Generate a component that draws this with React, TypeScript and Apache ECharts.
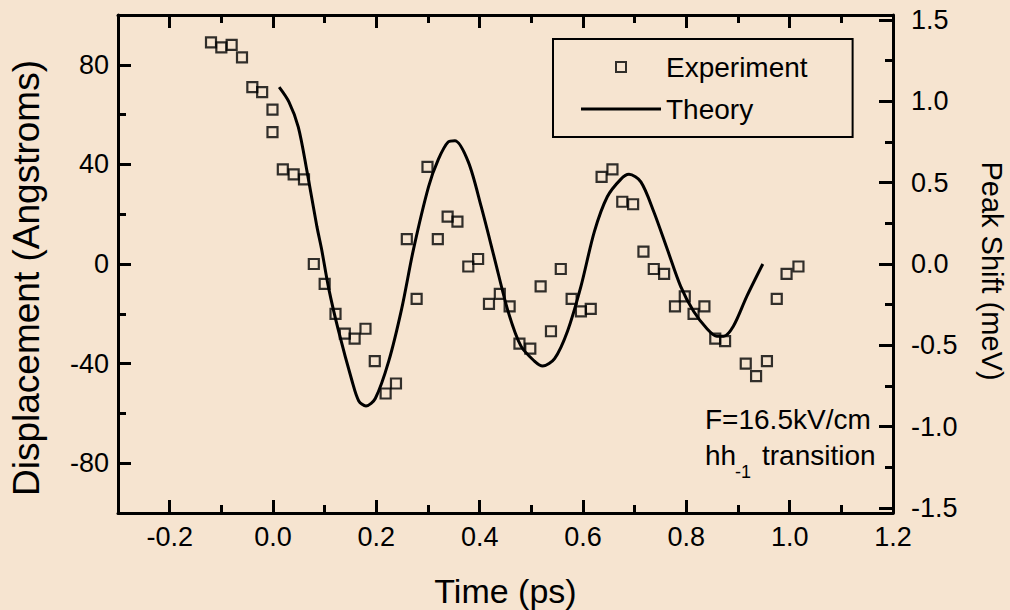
import React, { useEffect, useRef } from "react";
import * as echarts from "echarts";

// ---- data ----
const expTime = [
  -0.12, -0.1, -0.08, -0.06, -0.04, -0.021, -0.001, -0.001, 0.019, 0.04, 0.06, 0.079, 0.1, 0.121,
  0.139, 0.158, 0.179, 0.197, 0.218, 0.238, 0.259, 0.278, 0.299, 0.319, 0.338, 0.357, 0.378, 0.397,
  0.418, 0.439, 0.458, 0.477, 0.498, 0.518, 0.538, 0.557, 0.578, 0.596, 0.615, 0.636, 0.657, 0.676,
  0.697, 0.717, 0.737, 0.757, 0.778, 0.797, 0.814, 0.835, 0.856, 0.875, 0.915, 0.935, 0.956, 0.975,
  0.994, 1.017,
];
const expDisp = [
  89, 87, 88, 83, 71, 69, 62, 53, 38, 36, 34, 0, -8, -20, -28, -30, -26, -39, -52, -48, 10, -14, 39,
  10, 19, 17, -1, 2, -16, -12, -17, -32, -34, -9, -27, -2, -14, -19, -18, 35, 38, 25, 24, 5, -2, -4,
  -17, -13, -20, -17, -30, -31, -40, -45, -39, -14, -4, -1,
];
const theoryTime = [
  0.012, 0.031, 0.049, 0.066, 0.085, 0.094, 0.108, 0.127, 0.153, 0.166, 0.18, 0.198, 0.224, 0.249,
  0.272, 0.301, 0.32, 0.339, 0.352, 0.378, 0.403, 0.429, 0.455, 0.48, 0.506, 0.522, 0.545, 0.57,
  0.596, 0.622, 0.647, 0.673, 0.689, 0.712, 0.737, 0.763, 0.789, 0.814, 0.84, 0.859, 0.872, 0.891,
  0.917, 0.948,
];
const theoryDisp = [
  71, 65, 55, 37, 15, 6, -10, -27, -47, -55, -57, -54, -39, -18, 6, 31, 42, 49, 49.5, 41, 23, 2, -19,
  -33, -39, -41, -38, -27, -9, 13, 27, 34, 36, 33, 21, 6, -9, -19, -26, -29, -29, -25, -13, 0,
];

// tick positions (0.1 ps steps), every other one is a labelled major tick
const xTicks = ["-0.3", "-0.2", "-0.1", "0.0", "0.1", "0.2", "0.3", "0.4", "0.5", "0.6", "0.7", "0.8", "0.9", "1.0", "1.1", "1.2"];
// displacement ticks (20 Å steps)
const yLeftTicks = ["-100", "-80", "-60", "-40", "-20", "0", "20", "40", "60", "80", "100"];
// peak shift ticks (0.25 meV steps)
const yRightTicks = ["-1.5", "-1.25", "-1.0", "-0.75", "-0.5", "-0.25", "0.0", "0.25", "0.5", "0.75", "1.0", "1.25", "1.5"];

const FONT = "'Liberation Sans', Arial, Helvetica, sans-serif";
const INK = "#000";
const LABEL = { color: INK, fontSize: 27, fontFamily: FONT };
const TICK_W = 3;

const isOdd = (i: number) => i % 2 === 1;
const isEvenInner = (n: number) => (i: number) => i % 2 === 0 && i > 0 && i < n - 1;

function catX(position: "top" | "bottom", tickFilter: (i: number) => boolean, len: number, line: boolean, labels: boolean, name?: string) {
  return {
    type: "category",
    gridIndex: 0,
    position,
    data: xTicks,
    boundaryGap: false,
    splitLine: { show: false },
    axisLine: { show: line, onZero: false, lineStyle: { color: INK, width: 3 } },
    axisTick: { show: true, inside: true, length: len, interval: (i: number) => tickFilter(i), lineStyle: { color: INK, width: TICK_W } },
    axisLabel: labels ? { show: true, interval: (i: number) => tickFilter(i), margin: 10, ...LABEL } : { show: false },
    name,
    nameLocation: "middle",
    nameGap: 61,
    nameTextStyle: { color: INK, fontSize: 34, fontFamily: FONT },
    silent: true,
  };
}

function catY(gridIndex: number, position: "left" | "right", data: string[], tickFilter: (i: number) => boolean, len: number, line: boolean, labels: boolean, margin: number) {
  return {
    type: "category",
    gridIndex,
    position,
    data,
    boundaryGap: false,
    splitLine: { show: false },
    axisLine: { show: line, onZero: false, lineStyle: { color: INK, width: 3 } },
    axisTick: { show: len > 0, inside: true, length: len, interval: (i: number) => tickFilter(i), lineStyle: { color: INK, width: TICK_W } },
    axisLabel: labels ? { show: true, interval: (i: number) => tickFilter(i), margin, ...LABEL } : { show: false },
    silent: true,
  };
}

export default function App() {
  const ref = useRef<HTMLDivElement>(null);
  useEffect(() => {
    if (!ref.current) return;
    const chart = echarts.init(ref.current, null, { renderer: "svg" });
    const option: any = {
      animation: false,
      backgroundColor: "#F6E4D0",
      textStyle: { fontFamily: FONT },
      grid: [
        { left: 118, right: 117, top: 15, bottom: 97, containLabel: false, outerBoundsMode: "none" },
        // peak shift scale: -1.5..1.5 meV occupies a slightly shorter span than the frame
        { left: 118, right: 117, top: 20, bottom: 102, containLabel: false, outerBoundsMode: "none" },
      ],
      legend: {
        left: 553,
        top: 39,
        orient: "vertical",
        align: "left",
        padding: [14, 45, 14, 27],
        itemGap: 14,
        itemWidth: 80,
        itemHeight: 10,
        borderColor: INK,
        borderWidth: 2,
        textStyle: { color: INK, fontSize: 28, fontFamily: FONT },
        data: [
          {
            name: "Experiment",
            icon: "path://M0,0M80,10M35,0h10v10h-10z",
            itemStyle: { color: "rgba(0,0,0,0)", borderColor: INK, borderWidth: 2 },
          },
          {
            name: "Theory",
            icon: "path://M0,0M80,10M0,3.5h80v3h-80z",
            itemStyle: { color: INK, borderWidth: 0 },
          },
        ],
      },
      xAxis: [
        { type: "value", gridIndex: 0, min: -0.3, max: 1.2, show: false },
        catX("bottom", isOdd, 13, true, true, "Time (ps)"),
        catX("bottom", isEvenInner(xTicks.length), 8, false, false),
        catX("top", isOdd, 13, true, false),
        catX("top", isEvenInner(xTicks.length), 8, false, false),
        { type: "value", gridIndex: 1, min: -0.3, max: 1.2, show: false },
      ],
      yAxis: [
        { type: "value", gridIndex: 0, min: -100, max: 100, show: false },
        {
          ...catY(0, "left", yLeftTicks, isOdd, 13, true, true, 9),
          name: "Displacement (Angstroms)",
          nameLocation: "middle",
          nameGap: 73,
          nameRotate: 90,
          nameTextStyle: { color: INK, fontSize: 37, fontFamily: FONT, padding: [0, 28, 0, 0] },
        },
        catY(0, "left", yLeftTicks, isEvenInner(yLeftTicks.length), 8, false, false, 9),
        catY(0, "right", yLeftTicks, () => false, 0, true, false, 14),
        {
          ...catY(1, "right", yRightTicks, (i: number) => i % 2 === 0, 14, false, true, 18),
          name: "Peak Shift (meV)",
          nameLocation: "middle",
          nameGap: 84,
          nameRotate: -90,
          nameTextStyle: { color: INK, fontSize: 29, fontFamily: FONT, padding: [0, 0, 0, 14] },
        },
        catY(1, "right", yRightTicks, isOdd, 8, false, false, 14),
      ],
      series: [
        {
          name: "Experiment",
          type: "scatter",
          xAxisIndex: 0,
          yAxisIndex: 0,
          symbol: "rect",
          symbolSize: 10,
          itemStyle: { color: "rgba(0,0,0,0)", borderColor: INK, borderWidth: 2.2 },
          data: expTime.map((t, i) => [t, expDisp[i]]),
          z: 3,
        },
        {
          name: "Theory",
          type: "line",
          xAxisIndex: 0,
          yAxisIndex: 0,
          showSymbol: false,
          symbol: "none",
          smooth: 0.3,
          lineStyle: { color: INK, width: 3 },
          itemStyle: { color: INK },
          data: theoryTime.map((t, i) => [t, theoryDisp[i]]),
          z: 2,
        },
      ],
      graphic: [
        { type: "text", left: 705, top: 405, style: { text: "F=16.5kV/cm", font: `28px ${FONT}`, fill: INK } },
        { type: "text", left: 705, top: 441, style: { text: "hh", font: `28px ${FONT}`, fill: INK } },
        { type: "text", left: 735, top: 463, style: { text: "-1", font: `18px ${FONT}`, fill: INK } },
        { type: "text", left: 762, top: 441, style: { text: "transition", font: `28px ${FONT}`, fill: INK } },
      ],
    };
    chart.setOption(option);
    return () => chart.dispose();
  }, []);
  return <div ref={ref} style={{ position: "fixed", left: 0, top: 0, width: 1010, height: 610 }} />;
}
